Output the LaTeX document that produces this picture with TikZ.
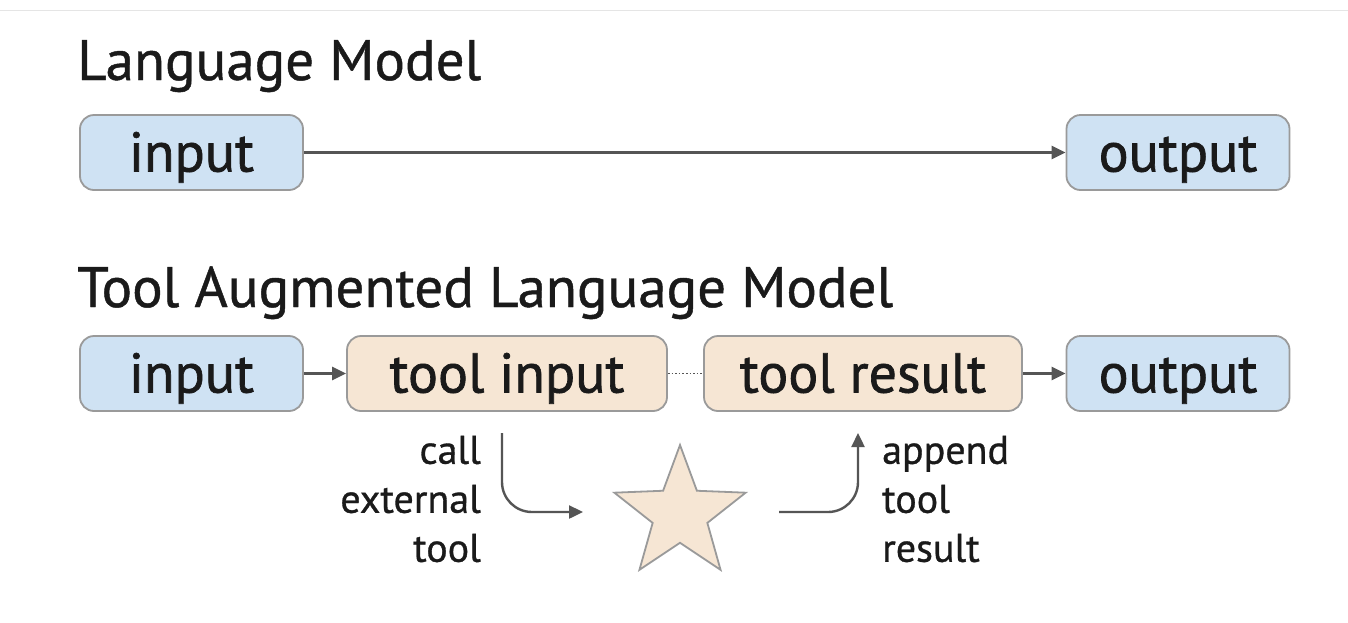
\documentclass[tikz,border=0pt]{standalone}
\usepackage{fontspec}
\setmainfont{PT Sans}[FakeBold=0.8]
\newfontfamily\boxfont{PT Sans}[FakeBold=1.2]
\usetikzlibrary{arrows.meta,shapes.geometric}
\definecolor{boxblue}{HTML}{CFE2F3}
\definecolor{boxbeige}{HTML}{F6E6D4}
\definecolor{edgegray}{HTML}{9A9A9A}
\definecolor{arrgray}{HTML}{555555}
\definecolor{txt}{HTML}{1A1A1A}
\tikzset{
  box/.style={draw=edgegray, line width=1.8pt, rounded corners=14pt, minimum height=75pt, inner sep=0pt, text=txt, font=\boxfont\fontsize{56}{60}\selectfont, text height=46pt, text depth=8pt},
  bluebox/.style={box, fill=boxblue, minimum width=223pt},
  beigebox/.style={box, fill=boxbeige},
  title/.style={anchor=base west, text=txt, font=\fontsize{57}{60}\selectfont, inner sep=0pt},
  lbl/.style={text=txt, font=\fontsize{40}{49}\selectfont, inner sep=0pt},
  conn/.style={draw=arrgray, line width=2.4pt, -{Triangle[length=14pt,width=13pt]}},
}
\begin{document}
\begin{tikzpicture}[x=1pt,y=-1pt]
\useasboundingbox (0,0) rectangle (1348,622);
\fill[white] (0,0) rectangle (1348,622);
\draw[color=black!10, line width=1pt] (0,10) -- (1348,10);

\node[title] (t1) at (77,80) {Language Model};
\node[bluebox] (in1) at (191.5,152.5) {input};
\node[bluebox] (out1) at (1178,152.5) {output};
\draw[conn] (in1) -- (out1);

\node[title] (t2) at (77,307) {Tool Augmented Language Model};
\node[bluebox] (in2) at (191.5,373.5) {input};
\node[beigebox, minimum width=320pt] (ti) at (507,373.5) {tool input};
\node[beigebox, minimum width=318pt] (tr) at (863,373.5) {tool result};
\node[bluebox] (out2) at (1178,373.5) {output};
\draw[conn] (in2) -- (ti);
\draw[conn] (tr) -- (out2);
\draw[draw=arrgray, line width=1.6pt, dotted] (ti) -- (tr);

\node[star, star points=5, star point ratio=2.4, minimum size=138pt, fill=boxbeige, draw=edgegray, line width=1.8pt, inner sep=0pt] (st) at (680,514) {};

\node[lbl, align=right, anchor=east] (callx) at (481,499) {call\\external\\tool};
\node[lbl, align=left, anchor=west] (appx) at (882,499) {append\\tool\\result};

\coordinate (c1) at (502,433);
\coordinate (c2) at (583,512);
\draw[conn] (c1) -- (502,482) to[out=-90,in=180] (532,512) -- (c2);
\coordinate (a1) at (779,512);
\coordinate (a2) at (858,433);
\draw[conn] (a1) -- (828,512) to[out=0,in=-90] (858,482) -- (a2);
\end{tikzpicture}
\end{document}
